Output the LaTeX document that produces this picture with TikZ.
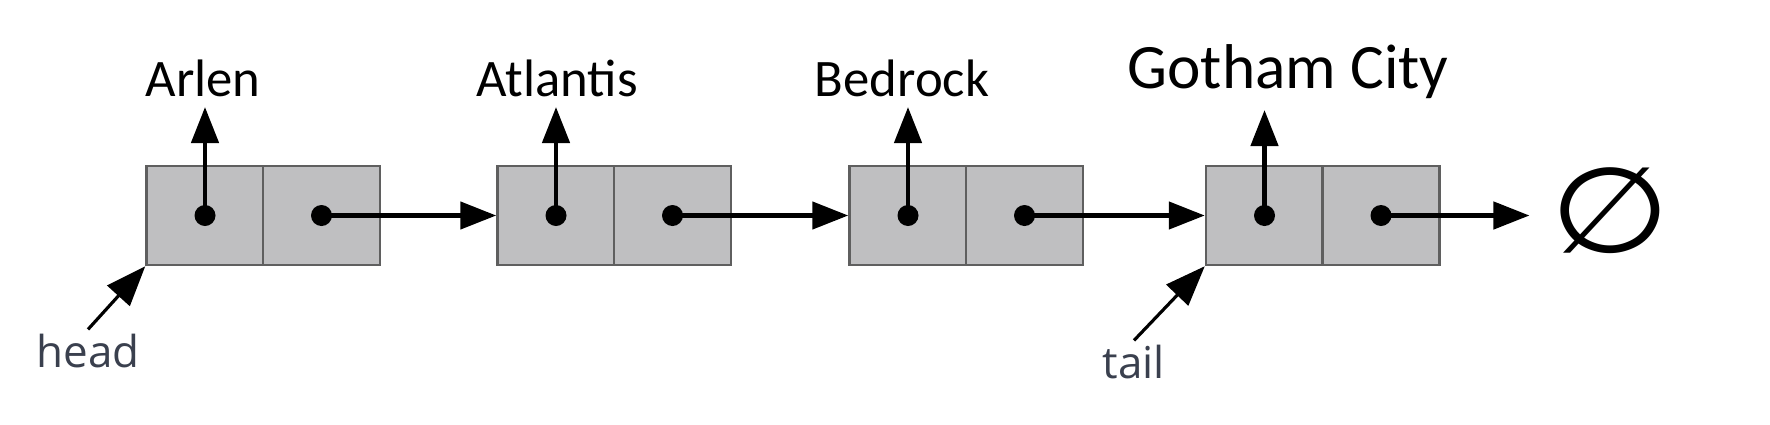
\documentclass[tikz,border=0pt]{standalone}
\usepackage{fontspec}
\setmainfont{Carlito}
\newfontfamily\tagfont{Open Sans}
\newfontfamily\symfont{DejaVu Sans}
\usetikzlibrary{arrows.meta}
\definecolor{cellgray}{RGB}{191,191,193}
\definecolor{edgegray}{RGB}{95,95,95}
\definecolor{taggray}{RGB}{58,64,78}

\begin{document}
\begin{tikzpicture}[cell/.style={draw=edgegray, fill=cellgray, line width=0.7pt, minimum width=1.17cm, minimum height=0.99cm, inner sep=0},
  dot/.style={fill, circle, inner sep=0, minimum size=0.21cm},
  ptr/.style={line width=1.3pt, -{Triangle[length=0.36cm, width=0.27cm]}},
  tagptr/.style={line width=0.9pt, -{Triangle[length=0.4cm, width=0.3cm]}},
  city/.style={font=\fontsize{15}{15}\selectfont, anchor=base, inner sep=0},
  tag/.style={font=\tagfont\fontsize{12.5}{12.5}\selectfont, text=taggray, anchor=base, inner sep=1pt}]
\useasboundingbox (0,0) rectangle (17.7,-4.24);
\node[cell] (d1) at (2.05,-2.155) {};
\node[cell] (p1) at (3.215,-2.155) {};
\node[cell] (d2) at (5.56,-2.155) {};
\node[cell] (p2) at (6.725,-2.155) {};
\node[cell] (d3) at (9.08,-2.155) {};
\node[cell] (p3) at (10.245,-2.155) {};
\node[cell] (d4) at (12.645,-2.155) {};
\node[cell] (p4) at (13.81,-2.155) {};
\node[dot] (x1) at (d1) {};
\node[dot] (y1) at (p1) {};
\node[dot] (x2) at (d2) {};
\node[dot] (y2) at (p2) {};
\node[dot] (x3) at (d3) {};
\node[dot] (y3) at (p3) {};
\node[dot] (x4) at (d4) {};
\node[dot] (y4) at (p4) {};
\node[city] (l1) at (2.03,-0.96) {Arlen};
\node[city] (l2) at (5.57,-0.96) {Atlantis};
\node[city] (l3) at (9.02,-0.96) {Bedrock};
\node[city, font=\fontsize{18}{18}\selectfont] (l4) at (12.88,-0.88) {Gotham City};
\node[inner sep=0.2cm, font=\symfont\fontsize{34}{34}\selectfont] (nil) at (16.1,-2.11) {\scalebox{1.15}[1]{∅}};
\node[tag] (head) at (0.88,-3.67) {head};
\node[tag] (tail) at (11.34,-3.78) {tail};
\draw[ptr] (x1.center) -- ([yshift=-0.11cm]x1 |- l1.base);
\draw[ptr] (x2.center) -- ([yshift=-0.11cm]x2 |- l2.base);
\draw[ptr] (x3.center) -- ([yshift=-0.11cm]x3 |- l3.base);
\draw[ptr] (x4.center) -- ([yshift=-0.22cm]x4 |- l4.base);
\draw[ptr] (y1.center) -- (d2.west);
\draw[ptr] (y2.center) -- (d3.west);
\draw[ptr] (y3.center) -- (d4.west);
\draw[ptr] (y4.center) -- (y4 -| nil.west);
\draw[tagptr] (head.north) -- (d1.south west);
\draw[tagptr] (tail.north) -- (d4.south west);
\end{tikzpicture}
\end{document}
